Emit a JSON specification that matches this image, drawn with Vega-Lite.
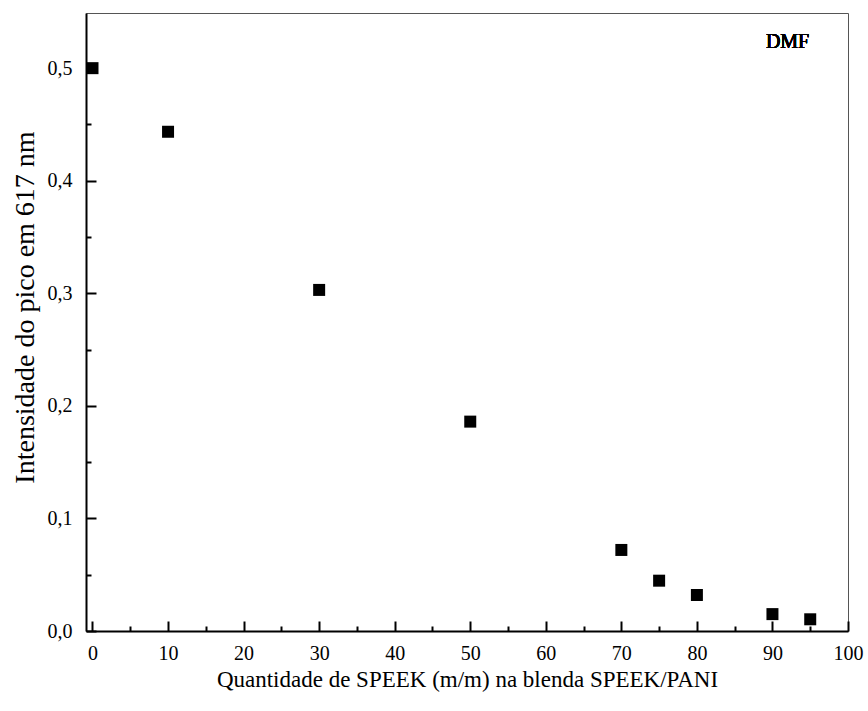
{
  "$schema": "https://vega.github.io/schema/vega-lite/v6.json",
  "width": 762,
  "height": 618,
  "autosize": {"type": "none"},
  "padding": {"left": 86, "top": 13, "right": 20, "bottom": 80},
  "background": "white",
  "config": {
    "view": {"stroke": "#555555", "strokeWidth": 1},
    "font": "Liberation Serif",
    "axis": {
      "labelFont": "Liberation Serif",
      "titleFont": "Liberation Serif",
      "labelColor": "#000000",
      "titleColor": "#000000",
      "titleFontWeight": "normal",
      "domainColor": "#000000",
      "tickColor": "#000000",
      "grid": false
    }
  },
  "data": {"values": [
    {"q": 0, "i": 0.5},
    {"q": 10, "i": 0.4435},
    {"q": 30, "i": 0.303},
    {"q": 50, "i": 0.186},
    {"q": 70, "i": 0.072},
    {"q": 75, "i": 0.0447},
    {"q": 80, "i": 0.032},
    {"q": 90, "i": 0.015},
    {"q": 95, "i": 0.0104}
  ]},
  "resolve": {"axis": {"x": "independent", "y": "independent"}},
  "layer": [
    {
      "mark": {"type": "point", "shape": "square", "filled": true, "color": "#000000", "opacity": 1, "size": 144},
      "encoding": {
        "x": {
          "field": "q", "type": "quantitative",
          "scale": {"domain": [-0.86, 100], "nice": false, "zero": false},
          "axis": {
            "orient": "bottom",
            "values": [0, 10, 20, 30, 40, 50, 60, 70, 80, 90, 100],
            "tickSize": -10, "tickWidth": 2, "domainWidth": 2,
            "labelFontSize": 20, "labelPadding": 22, "labelFlush": false,
            "title": "Quantidade de SPEEK (m/m) na blenda SPEEK/PANI",
            "titleFontSize": 23, "titlePadding": 5
          }
        },
        "y": {
          "field": "i", "type": "quantitative",
          "scale": {"domain": [0, 0.549], "nice": false},
          "axis": {
            "orient": "left",
            "values": [0, 0.1, 0.2, 0.3, 0.4, 0.5],
            "labelExpr": "replace(format(datum.value, '.1f'), '.', ',')",
            "tickSize": -10, "tickWidth": 2, "domainWidth": 2,
            "labelFontSize": 20, "labelPadding": 24, "labelFlush": false,
            "title": "Intensidade do pico em 617 nm",
            "titleFontSize": 28, "titleX": -61, "titleY": 294,
            "titleAngle": -90, "titleAlign": "center", "titleBaseline": "middle"
          }
        }
      }
    },
    {
      "mark": {"type": "text", "fontSize": 20, "fontWeight": "normal", "color": "#000000", "align": "center", "baseline": "middle"},
      "encoding": {
        "x": {"datum": 92, "type": "quantitative",
          "axis": {
            "orient": "bottom",
            "values": [5, 15, 25, 35, 45, 55, 65, 75, 85, 95],
            "tickSize": -5, "tickWidth": 2, "domain": false, "labels": false, "title": null
          }
        },
        "y": {"datum": 0.5236, "type": "quantitative",
          "axis": {
            "orient": "left",
            "values": [0.05, 0.15, 0.25, 0.35, 0.45],
            "tickSize": -5, "tickWidth": 2, "domain": false, "labels": false, "title": null
          }
        },
        "text": {"value": "DMF"}
      }
    }
  ]
}
